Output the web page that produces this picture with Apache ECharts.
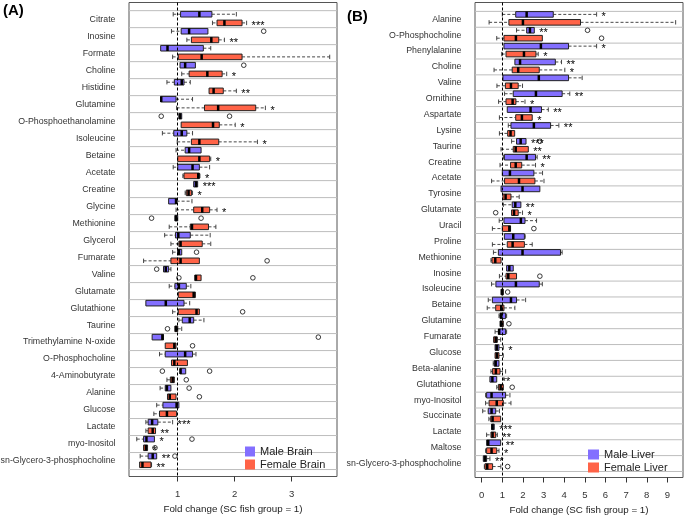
<!DOCTYPE html>
<html>
<head>
<meta charset="utf-8">
<script src="https://cdn.jsdelivr.net/npm/echarts@6/dist/echarts.min.js"></script>
<style>
  html, body { margin: 0; padding: 0; background: #fff; }
  #chart { width: 685px; height: 515px; }
</style>
</head>
<body>
<div id="chart"></div>
<script>
// ---- data: [low whisker, q1, median, q3, high whisker] per row, fold change ----
var brainCats = ['Citrate', 'Inosine', 'Formate', 'Choline', 'Histidine', 'Glutamine', 'O-Phosphoethanolamine',
  'Isoleucine', 'Betaine', 'Acetate', 'Creatine', 'Glycine', 'Methionine', 'Glycerol', 'Fumarate', 'Valine',
  'Glutamate', 'Glutathione', 'Taurine', 'Trimethylamine N-oxide', 'O-Phosphocholine', '4-Aminobutyrate',
  'Alanine', 'Glucose', 'Lactate', 'myo-Inositol', 'sn-Glycero-3-phosphocholine'];
var brainMale = [
  [0.92, 1.05, 1.38, 1.60, 2.03], [0.89, 1.06, 1.20, 1.53, 1.53], [0.70, 0.70, 0.82, 1.45, 1.58],
  [1.04, 1.04, 1.13, 1.31, 1.31], [0.81, 0.94, 1.07, 1.11, 1.22], [0.70, 0.70, 0.71, 0.97, 1.26],
  [1.02, 1.02, 1.04, 1.07, 1.07], [0.73, 0.93, 1.07, 1.16, 1.26], [0.97, 1.13, 1.20, 1.41, 1.41],
  [0.92, 1.00, 1.26, 1.38, 1.56], [1.28, 1.28, 1.32, 1.35, 1.35], [0.84, 0.84, 0.97, 0.98, 1.25],
  [0.95, 0.95, 0.97, 1.00, 1.00], [0.77, 0.96, 1.01, 1.22, 1.57], [0.91, 1.00, 1.02, 1.07, 1.07],
  [0.75, 0.75, 0.79, 0.84, 0.88], [0.85, 0.95, 1.02, 1.15, 1.23], [0.44, 0.44, 0.79, 1.11, 1.21],
  [1.02, 1.08, 1.21, 1.28, 1.46], [0.55, 0.55, 0.73, 0.75, 0.75], [0.68, 0.78, 1.13, 1.26, 1.32],
  [1.04, 1.04, 1.05, 1.14, 1.14], [0.69, 0.78, 0.81, 0.88, 0.88], [0.63, 0.74, 0.98, 1.02, 1.02],
  [0.44, 0.48, 0.55, 0.65, 0.91], [0.28, 0.40, 0.45, 0.59, 0.59], [0.34, 0.48, 0.56, 0.63, 0.63]];
var brainFemale = [
  [1.61, 1.69, 1.82, 2.13, 2.21], [1.16, 1.24, 1.59, 1.72, 1.82], [0.91, 1.01, 1.42, 2.13, 3.67],
  [1.07, 1.20, 1.52, 1.78, 1.86], [1.55, 1.55, 1.63, 1.80, 2.03], [0.98, 1.47, 1.71, 2.37, 2.54],
  [1.06, 1.06, 1.62, 1.73, 2.01], [0.99, 1.24, 1.38, 1.72, 2.40], [1.00, 1.00, 1.38, 1.56, 1.58],
  [1.09, 1.11, 1.36, 1.38, 1.39], [1.13, 1.15, 1.19, 1.24, 1.26], [0.97, 1.28, 1.43, 1.56, 1.69],
  [0.85, 1.22, 1.25, 1.54, 1.67], [0.88, 1.02, 1.05, 1.43, 1.58], [0.40, 0.88, 1.05, 1.38, 1.38],
  [1.30, 1.30, 1.32, 1.41, 1.41], [1.01, 1.01, 1.28, 1.31, 1.31], [0.91, 1.01, 1.33, 1.38, 1.38],
  [0.95, 0.95, 0.97, 1.00, 1.07], [0.78, 0.78, 0.94, 0.97, 0.97], [0.89, 0.89, 0.94, 1.17, 1.17],
  [0.81, 0.87, 0.91, 0.94, 0.94], [0.82, 0.82, 0.86, 0.97, 0.97], [0.58, 0.68, 0.81, 0.98, 0.98],
  [0.44, 0.48, 0.56, 0.61, 0.61], [0.40, 0.40, 0.44, 0.47, 0.47], [0.33, 0.33, 0.38, 0.53, 0.54]];
var brainMaleOut = [[], [2.51], [], [2.16], [], [], [0.71, 1.91], [], [], [], [], [], [0.54, 1.41], [], [1.33],
  [0.63], [], [], [], [3.47], [], [0.73, 1.56], [1.20], [], [], [1.25], [0.95]];
var brainFemaleOut = [[], [], [], [], [], [], [], [], [], [], [], [], [], [], [2.57],
  [1.02, 2.32], [], [2.14], [0.82], [1.26], [], [1.15], [1.38], [], [], [0.60], []];
var brainMaleSig = ['', '', '', '', '', '', '', '', '', '', '***', '', '', '', '', '', '', '', '', '', '', '', '', '', '***', '*', '**'];
var brainFemaleSig = ['***', '**', '', '*', '**', '*', '*', '*', '*', '*', '*', '*', '', '', '', '', '', '', '', '', '', '', '', '', '**', '*', '**'];

var liverCats = ['Alanine', 'O-Phosphocholine', 'Phenylalanine', 'Choline', 'Valine', 'Ornithine', 'Aspartate',
  'Lysine', 'Taurine', 'Creatine', 'Acetate', 'Tyrosine', 'Glutamate', 'Uracil', 'Proline', 'Methionine',
  'Inosine', 'Isoleucine', 'Betaine', 'Glutamine', 'Fumarate', 'Glucose', 'Beta-alanine', 'Glutathione',
  'myo-Inositol', 'Succinate', 'Lactate', 'Maltose', 'sn-Glycero-3-phosphocholine'];
var liverMale = [
  [1.00, 1.65, 2.18, 3.47, 5.57], [1.69, 2.18, 2.34, 2.55, 2.55], [1.08, 1.08, 2.87, 4.21, 5.57],
  [1.61, 1.61, 1.86, 3.57, 3.87], [1.03, 1.03, 2.77, 4.21, 4.87], [1.11, 1.53, 2.63, 3.90, 4.27],
  [1.24, 1.24, 2.37, 2.90, 3.23], [1.29, 1.42, 2.53, 3.34, 3.74], [1.45, 1.69, 1.89, 2.15, 2.15],
  [1.05, 1.10, 2.18, 2.61, 2.69], [1.00, 1.00, 1.37, 2.53, 2.95], [0.94, 0.94, 1.98, 2.82, 2.82],
  [1.05, 1.48, 1.63, 1.90, 1.90], [0.85, 1.08, 1.90, 2.10, 2.66], [1.10, 1.10, 1.53, 2.07, 2.11],
  [0.57, 0.81, 1.98, 3.82, 3.90], [1.21, 1.21, 1.34, 1.53, 1.53], [0.48, 0.69, 1.66, 2.79, 2.94],
  [0.32, 0.52, 1.42, 1.69, 2.13], [0.84, 0.89, 0.95, 1.16, 1.21], [0.65, 0.81, 0.85, 1.16, 1.21],
  [0.65, 0.65, 0.73, 0.84, 1.05], [0.56, 0.61, 0.68, 0.84, 0.84], [0.40, 0.40, 0.52, 0.73, 0.73],
  [0.19, 0.24, 0.48, 1.16, 1.37], [0.05, 0.32, 0.48, 0.68, 0.86], [0.48, 0.48, 0.53, 0.61, 0.61],
  [0.24, 0.24, 0.32, 0.92, 0.92], [0.08, 0.08, 0.16, 0.24, 0.40]];
var liverFemale = [
  [0.36, 1.32, 2.00, 4.79, 9.40], [0.73, 1.08, 1.66, 2.94, 2.94], [0.97, 1.18, 2.05, 2.63, 2.74],
  [0.60, 1.48, 1.77, 2.79, 4.03], [0.74, 1.15, 1.42, 1.77, 1.98], [0.82, 1.18, 1.50, 1.66, 2.10],
  [0.86, 1.65, 1.95, 2.45, 2.45], [0.86, 1.26, 1.40, 1.60, 1.60], [0.94, 1.53, 1.65, 2.26, 2.26],
  [0.89, 1.40, 1.65, 1.94, 2.61], [0.48, 1.11, 1.81, 2.58, 3.02], [1.03, 1.03, 1.16, 1.42, 1.82],
  [1.45, 1.45, 1.57, 1.77, 1.98], [0.52, 1.00, 1.34, 1.40, 1.40], [0.52, 1.24, 1.50, 2.07, 2.45],
  [0.45, 0.50, 0.66, 0.94, 0.94], [0.86, 1.18, 1.29, 1.69, 1.69], [0.94, 0.94, 0.99, 1.05, 1.05],
  [0.27, 0.68, 0.95, 1.08, 1.61], [0.89, 0.89, 0.95, 1.05, 1.05], [0.58, 0.58, 0.68, 0.76, 0.92],
  [0.65, 0.65, 0.74, 0.84, 1.05], [0.45, 0.53, 0.69, 0.89, 1.16], [0.73, 0.81, 0.92, 1.05, 1.05],
  [0.19, 0.36, 0.73, 1.05, 1.42], [0.35, 0.44, 0.53, 0.92, 0.92], [0.24, 0.45, 0.53, 0.68, 0.76],
  [0.19, 0.24, 0.48, 0.73, 0.84], [0.13, 0.16, 0.27, 0.53, 0.93]];
var liverMaleOut = [[], [5.13], [], [], [], [], [], [], [2.82], [], [], [], [], [], [], [], [], [], [], [], [], [], [], [], [], [], [], [], []];
var liverFemaleOut = [[], [5.81], [], [], [], [], [], [], [], [], [], [], [0.68], [2.53], [], [], [2.82], [1.26], [], [1.32], [], [], [], [1.48], [], [], [], [], [1.26]];
var liverMaleSig = ['*', '**', '*', '**', '', '**', '**', '**', '***', '**', '', '', '**', '', '', '', '', '', '', '', '', '*', '', '**', '', '', '***', '**', '**'];
var liverFemaleSig = ['', '', '*', '*', '', '*', '*', '', '**', '*', '', '', '*', '', '', '', '', '', '', '', '', '', '', '', '', '', '**', '*', ''];

var maleColor = '#836FFF';
var femaleColor = '#FF6347';
var FONT = '"Liberation Sans", Arial, sans-serif';

function boxRender(color, off, outs, sigs) {
  return function (params, api) {
    var i = params.dataIndex;
    var row = api.value(0);
    var yc = api.coord([1, row + 0.5 + off])[1];
    var xl = api.coord([api.value(1), row])[0];
    var x1 = api.coord([api.value(2), row])[0];
    var xm = api.coord([api.value(3), row])[0];
    var x3 = api.coord([api.value(4), row])[0];
    var xh = api.coord([api.value(5), row])[0];
    var h = 2.8, cap = 2.2;
    var dash = { stroke: '#333', lineWidth: 0.9, lineDash: [3, 2] };
    var solid = { stroke: '#333', lineWidth: 0.9 };
    var ch = [];
    if (xl < x1 - 0.5) {
      ch.push({ type: 'line', shape: { x1: xl, y1: yc, x2: x1, y2: yc }, style: dash });
      ch.push({ type: 'line', shape: { x1: xl, y1: yc - cap, x2: xl, y2: yc + cap }, style: solid });
    }
    if (xh > x3 + 0.5) {
      ch.push({ type: 'line', shape: { x1: x3, y1: yc, x2: xh, y2: yc }, style: dash });
      ch.push({ type: 'line', shape: { x1: xh, y1: yc - cap, x2: xh, y2: yc + cap }, style: solid });
    }
    ch.push({ type: 'rect', shape: { x: x1, y: yc - h, width: Math.max(x3 - x1, 1), height: 2 * h },
      style: { fill: color, stroke: '#222', lineWidth: 1 } });
    ch.push({ type: 'line', shape: { x1: xm, y1: yc - h, x2: xm, y2: yc + h }, style: { stroke: '#000', lineWidth: 2.5 } });
    outs[i].forEach(function (v) {
      var ox = api.coord([v, row])[0];
      ch.push({ type: 'circle', shape: { cx: ox, cy: yc, r: 2.3 }, style: { fill: 'none', stroke: '#222', lineWidth: 0.9 } });
    });
    if (sigs[i]) {
      ch.push({ type: 'text', style: { text: sigs[i], x: Math.max(xh, x3) + 5, y: yc + 3,
        textAlign: 'left', textVerticalAlign: 'middle', align: 'left', verticalAlign: 'middle',
        fill: '#000', fontSize: 11, fontFamily: FONT } });
    }
    return { type: 'group', children: ch };
  };
}

function labelRender(cats) {
  return function (params, api) {
    var row = api.value(0);
    var cs = params.coordSys;
    var yTop = api.coord([1, row])[1];
    var yMid = api.coord([1, row + 0.5])[1];
    var ch = [
      { type: 'line', shape: { x1: cs.x, y1: yTop, x2: cs.x + cs.width, y2: yTop }, style: { stroke: '#bdbdbd', lineWidth: 1 } },
      { type: 'text', style: { text: cats[row], x: cs.x - 13.5, y: yMid,
        textAlign: 'right', textVerticalAlign: 'middle', align: 'right', verticalAlign: 'middle',
        fill: '#333', fontSize: 8.8, fontFamily: FONT } }
    ];
    if (row === cats.length - 1) {
      var yBot = api.coord([1, row + 1])[1];
      ch.push({ type: 'line', shape: { x1: cs.x, y1: yBot, x2: cs.x + cs.width, y2: yBot }, style: { stroke: '#bdbdbd', lineWidth: 1 } });
    }
    return { type: 'group', children: ch };
  };
}

function rows(stats) {
  return stats.map(function (s, i) { return [i].concat(s); });
}

function xAx(grid, min, max, ticks) {
  return {
    gridIndex: grid, type: 'value', min: min, max: max,
    axisLine: { show: false, onZero: false },
    axisTick: { show: true, length: 5, customValues: ticks, lineStyle: { color: '#333' } },
    axisLabel: { customValues: ticks, fontSize: 9.5, margin: 13, color: '#333', fontFamily: FONT },
    splitLine: { show: false },
    name: 'Fold change (SC fish group = 1)', nameLocation: 'middle', nameGap: 27,
    nameTextStyle: { fontSize: 9.8, color: '#222', fontFamily: FONT }
  };
}

function panelSeries(idx, cats, male, female, mOut, fOut, mSig, fSig, names, mOff, fOff) {
  return [
    { type: 'custom', xAxisIndex: idx, yAxisIndex: idx, silent: true, z: 1,
      data: cats.map(function (c, i) { return [i]; }), encode: { x: -1, y: 0 },
      renderItem: labelRender(cats) },
    { type: 'custom', name: names[0], xAxisIndex: idx, yAxisIndex: idx, silent: true, z: 3,
      itemStyle: { color: maleColor }, data: rows(male), encode: { x: [1, 2, 3, 4, 5], y: 0 },
      renderItem: boxRender(maleColor, mOff, mOut, mSig) },
    { type: 'custom', name: names[1], xAxisIndex: idx, yAxisIndex: idx, silent: true, z: 3,
      itemStyle: { color: femaleColor }, data: rows(female), encode: { x: [1, 2, 3, 4, 5], y: 0 },
      renderItem: boxRender(femaleColor, fOff, fOut, fSig),
      markLine: { silent: true, symbol: ['none', 'none'], label: { show: false },
        lineStyle: { type: [3, 2], color: '#000', width: 1 }, data: [{ xAxis: 1 }] } }
  ];
}

var chart = echarts.init(document.getElementById('chart'), null, { renderer: 'canvas' });
chart.setOption({
  animation: false,
  backgroundColor: '#fff',
  textStyle: { fontFamily: FONT },
  title: [
    { text: '(A)', left: 3, top: 3, padding: 0, textStyle: { fontSize: 15, fontWeight: 'bold', color: '#000', fontFamily: FONT } },
    { text: '(B)', left: 347, top: 9, padding: 0, textStyle: { fontSize: 15, fontWeight: 'bold', color: '#000', fontFamily: FONT } }
  ],
  legend: [
    { data: ['Male Brain', 'Female Brain'], orient: 'vertical', left: 245, top: 446, padding: 0,
      itemWidth: 10, itemHeight: 10, itemGap: 2, icon: 'rect', selectedMode: false,
      textStyle: { fontSize: 11, color: '#222', fontFamily: FONT } },
    { data: ['Male Liver', 'Female Liver'], orient: 'vertical', left: 588, top: 449, padding: 0,
      itemWidth: 11, itemHeight: 10, itemGap: 2, icon: 'rect', selectedMode: false,
      textStyle: { fontSize: 11, color: '#222', fontFamily: FONT } }
  ],
  grid: [
    { left: 129, top: 2.5, width: 208, height: 474, show: true, borderColor: '#555', borderWidth: 1,
      containLabel: false, outerBoundsMode: 'none' },
    { left: 475, top: 2.5, width: 208, height: 475, show: true, borderColor: '#555', borderWidth: 1,
      containLabel: false, outerBoundsMode: 'none' }
  ],
  xAxis: [xAx(0, 0.1436, 3.798, [1, 2, 3]), xAx(1, -0.3227, 9.756, [0, 1, 2, 3, 4, 5, 6, 7, 8, 9])],
  yAxis: [
    { gridIndex: 0, type: 'value', inverse: true, min: -0.48, max: 27.41, show: false },
    { gridIndex: 1, type: 'value', inverse: true, min: -0.56, max: 29.38, show: false }
  ],
  series: [].concat(
    panelSeries(0, brainCats, brainMale, brainFemale, brainMaleOut, brainFemaleOut, brainMaleSig, brainFemaleSig,
      ['Male Brain', 'Female Brain'], -0.29, 0.22),
    panelSeries(1, liverCats, liverMale, liverFemale, liverMaleOut, liverFemaleOut, liverMaleSig, liverFemaleSig,
      ['Male Liver', 'Female Liver'], -0.31, 0.19)
  )
});
</script>
</body>
</html>
